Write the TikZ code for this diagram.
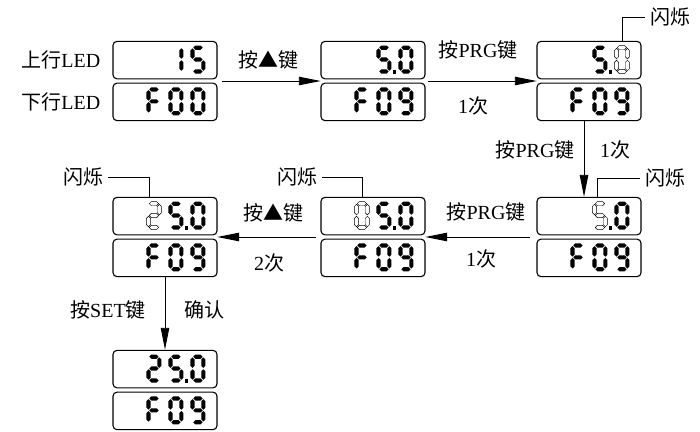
\documentclass[tikz,border=0pt]{standalone}
\usepackage{fontspec}
\setmainfont{Liberation Serif}
\newfontfamily\cjk{Noto Sans CJK SC}
\usetikzlibrary{arrows.meta,positioning,calc}

\newcommand\zh[1]{{\cjk #1}}
% the seven segments of one digit cell (15 x 28, y down)
\newcommand\segA{(2.8,2.1)--(4.9,0)--(10.1,0)--(12.2,2.1)--(10.1,4.2)--(4.9,4.2)--cycle}
\newcommand\segG{(2.8,14)--(4.9,11.9)--(10.1,11.9)--(12.2,14)--(10.1,16.1)--(4.9,16.1)--cycle}
\newcommand\segD{(2.8,25.9)--(4.9,23.8)--(10.1,23.8)--(12.2,25.9)--(10.1,28)--(4.9,28)--cycle}
\newcommand\segF{(2.1,2.8)--(4.2,4.9)--(4.2,11.2)--(2.1,13.3)--(0,11.2)--(0,4.9)--cycle}
\newcommand\segE{(2.1,14.7)--(4.2,16.8)--(4.2,23.1)--(2.1,25.2)--(0,23.1)--(0,16.8)--cycle}
\newcommand\segB{(12.9,2.8)--(15,4.9)--(15,11.2)--(12.9,13.3)--(10.8,11.2)--(10.8,4.9)--cycle}
\newcommand\segC{(12.9,14.7)--(15,16.8)--(15,23.1)--(12.9,25.2)--(10.8,23.1)--(10.8,16.8)--cycle}
\newcommand\digZero{A,B,C,D,E,F}
\newcommand\digOne{B,C}
\newcommand\digTwo{A,B,G,E,D}
\newcommand\digFive{A,F,G,C,D}
\newcommand\digNine{A,B,C,D,F,G}
\newcommand\digEff{A,F,G,E}
% #1 box, #2 cell (0,1,2), #3 segments, #4 style
\newcommand\leddigit[4]{%
  \begin{scope}[shift={(#1.north west)},xshift=34+22*#2,yshift=-4.75]
    \foreach \s in #3 {\path[#4] \csname seg\s\endcsname;}
  \end{scope}}
\newcommand\leddot[1]{\fill ([shift={(72.2,29)}]#1.north west) rectangle ++(3.8,3.8);}

\tikzset{
  ledbox/.style={draw,line width=1.1pt,rounded corners=4pt,minimum width=104pt,minimum height=37.5pt,inner sep=0pt},
  ledpair/.style={minimum width=104pt,minimum height=80pt,inner sep=0pt},
  flow/.style={-{Triangle[length=22pt,width=8.5pt]},line width=0.9pt},
  callout/.style={line width=0.8pt},
  lit/.style={fill=black},
  flash/.style={draw=black,line width=0.45pt,fill=white},
  lbl/.style={font=\fontsize{20}{24}\selectfont,inner sep=1pt},
}

\begin{document}
\begin{tikzpicture}[x=1pt,y=-1pt]
  \useasboundingbox (0,0) rectangle (700,431);
  % display pairs
  \node[ledpair] (p1) at (165,81) {};
  \node[ledpair] (p2) at (373,81) {};
  \node[ledpair] (p3) at (589,81) {};
  \node[ledpair] (p4) at (589,237) {};
  \node[ledpair] (p5) at (373,237) {};
  \node[ledpair] (p6) at (165,237) {};
  \node[ledpair] (p7) at (165,390) {};
  \foreach \i in {1,...,7} {
    \node[ledbox,anchor=north] (u\i) at (p\i.north) {};
    \node[ledbox,anchor=south] (d\i) at (p\i.south) {};
  }
  \node[lbl,left=11pt of u1] (upper) {\zh{上行}LED};
  \node[lbl,left=11pt of d1] (lower) {\zh{下行}LED};

  % upper rows
  \leddigit{u1}{1}{\digOne}{lit} \leddigit{u1}{2}{\digFive}{lit}
  \leddigit{u2}{1}{\digFive}{lit} \leddot{u2} \leddigit{u2}{2}{\digZero}{lit}
  \leddigit{u3}{1}{\digFive}{lit} \leddot{u3} \leddigit{u3}{2}{\digZero}{flash}
  \leddigit{u4}{1}{\digFive}{flash} \leddot{u4} \leddigit{u4}{2}{\digZero}{lit}
  \leddigit{u5}{0}{\digZero}{flash} \leddigit{u5}{1}{\digFive}{lit} \leddot{u5} \leddigit{u5}{2}{\digZero}{lit}
  \leddigit{u6}{0}{\digTwo}{flash} \leddigit{u6}{1}{\digFive}{lit} \leddot{u6} \leddigit{u6}{2}{\digZero}{lit}
  \leddigit{u7}{0}{\digTwo}{lit} \leddigit{u7}{1}{\digFive}{lit} \leddot{u7} \leddigit{u7}{2}{\digZero}{lit}
  % lower rows
  \leddigit{d1}{0}{\digEff}{lit} \leddigit{d1}{1}{\digZero}{lit} \leddigit{d1}{2}{\digZero}{lit}
  \foreach \b in {d2,d3,d4,d5,d6,d7} {
    \leddigit{\b}{0}{\digEff}{lit} \leddigit{\b}{1}{\digZero}{lit} \leddigit{\b}{2}{\digNine}{lit}
  }

  % steps
  \draw[flow] ([xshift=5]p1.east) -- (p2.west);
  \draw[flow] ([xshift=3]p2.east) -- (p3.west);
  \draw[flow] ([xshift=-5]p3.south) -- ([xshift=-5]p4.north);
  \draw[flow] ([xshift=-7]p4.west) -- (p5.east);
  \draw[flow] ([xshift=-5]p5.west) -- (p6.east);
  \draw[flow] (p6.south) -- (p7.north);
  \node[lbl] (k1) at (268,60) {\zh{按▲键}};
  \node[lbl] (k2) at (478,50) {\zh{按}PRG\zh{键}};
  \node[lbl] (n2) at (473,106) {1\zh{次}};
  \node[lbl] (k3) at (535,150) {\zh{按}PRG\zh{键}};
  \node[lbl] (n3) at (615,150) {1\zh{次}};
  \node[lbl] (k4) at (486,212) {\zh{按}PRG\zh{键}};
  \node[lbl] (n4) at (481,259) {1\zh{次}};
  \node[lbl] (k5) at (273,213) {\zh{按▲键}};
  \node[lbl] (n5) at (269,263) {2\zh{次}};
  \node[lbl] (k6) at (108,310) {\zh{按}SET\zh{键}};
  \node[lbl] (n6) at (204,310) {\zh{确认}};

  % blinking marks
  \node[lbl] (fl3) at (670,17) {\zh{闪烁}};
  \node[lbl] (fl4) at (665,178) {\zh{闪烁}};
  \node[lbl] (fl5) at (297,177) {\zh{闪烁}};
  \node[lbl] (fl6) at (83,177) {\zh{闪烁}};
  \draw[callout] ([xshift=86]u3.north west) |- ([xshift=-4]fl3.west);
  \draw[callout] ([xshift=61]u4.north west) |- ([xshift=-4]fl4.west);
  \draw[callout] ([xshift=4]fl5.east) -| ([xshift=42]u5.north west);
  \draw[callout] ([xshift=4]fl6.east) -| ([xshift=37]u6.north west);
\end{tikzpicture}
\end{document}
